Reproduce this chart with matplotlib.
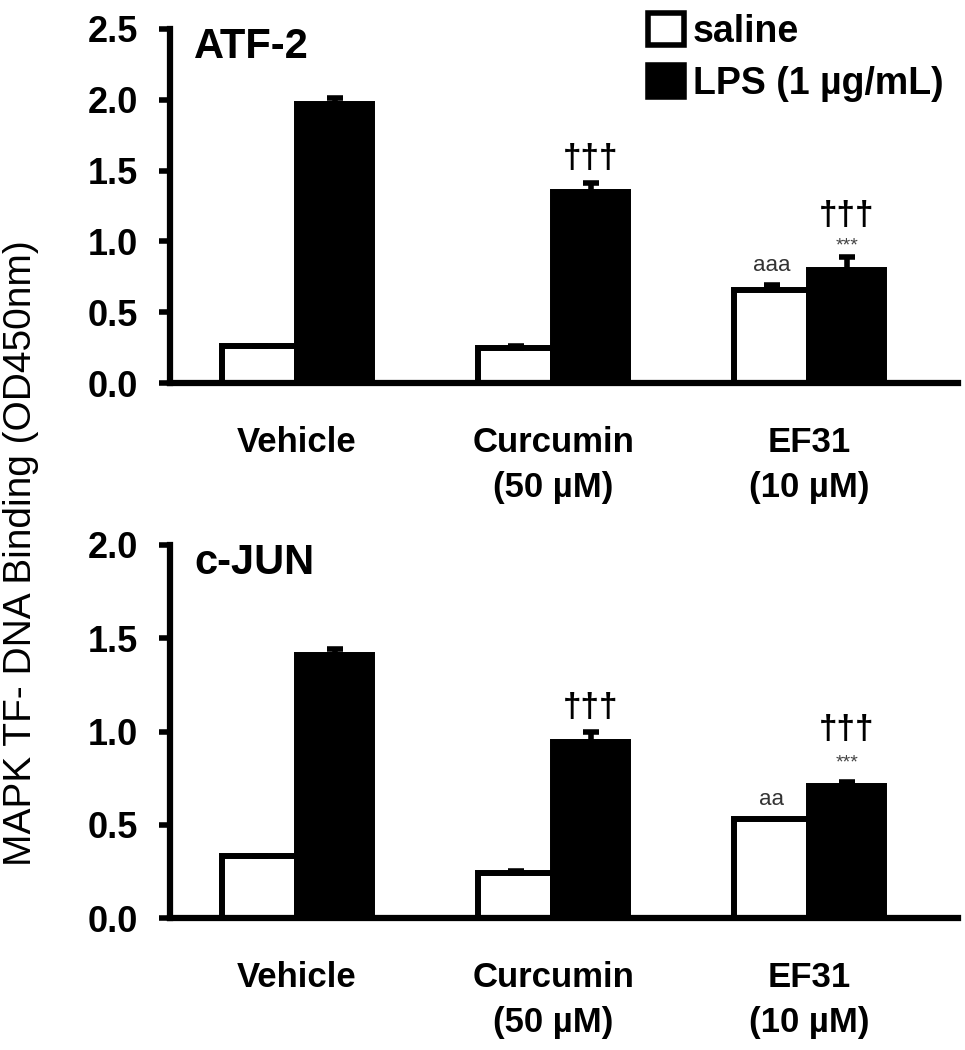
import numpy as np
import matplotlib
matplotlib.use("Agg")
import matplotlib.pyplot as plt
from matplotlib.patches import Patch

plt.rcParams['font.family'] = ['Liberation Sans', 'DejaVu Sans']
plt.rcParams['font.weight'] = 'bold'

# data
groups = ['Vehicle', 'Curcumin\n(50 µM)', 'EF31\n(10 µM)']

atf2_saline = [0.26, 0.25, 0.66]
atf2_saline_err = [0.0, 0.01, 0.03]
atf2_lps = [1.97, 1.35, 0.80]
atf2_lps_err = [0.04, 0.06, 0.09]

cjun_saline = [0.33, 0.24, 0.53]
cjun_saline_err = [0.0, 0.01, 0.0]
cjun_lps = [1.41, 0.945, 0.71]
cjun_lps_err = [0.03, 0.05, 0.02]

# significance marks: (group, series, text, offset px above error bar, size, colour)
atf2_marks = [(1, 'lps', '†††', 25, 24, 'black'),
              (2, 'lps', '†††', 41, 24, 'black'),
              (2, 'lps', '***', 11, 14, '#444444'),
              (2, 'saline', 'aaa', 20, 16, '#333333')]
cjun_marks = [(1, 'lps', '†††', 25, 24, 'black'),
              (2, 'lps', '†††', 52, 24, 'black'),
              (2, 'lps', '***', 19, 14, '#444444'),
              (2, 'saline', 'aa', 20, 16, '#333333')]

W, H = 965, 1050
fig = plt.figure(figsize=(W / 100, H / 100), dpi=100)

def px_axes(left, top, right, bottom):
    return fig.add_axes([left / W, 1 - bottom / H, (right - left) / W, (bottom - top) / H])

ax1 = px_axes(170, 29, 958, 383)
ax2 = px_axes(170, 545, 958, 918)

bw = 0.293
x = np.arange(len(groups))

def panel(ax, saline, saline_err, lps, lps_err, ymax, title, marks):
    lw = 4.3
    ax.bar(x - bw / 2, saline, bw, color='white', edgecolor='black', linewidth=lw, zorder=2)
    ax.bar(x + bw / 2, lps, bw, color='black', edgecolor='black', linewidth=lw, zorder=2)
    ax.errorbar(x - bw / 2, saline, yerr=[np.zeros(3), saline_err], fmt='none',
                ecolor='black', elinewidth=4, capsize=6, capthick=4, zorder=3)
    ax.errorbar(x + bw / 2, lps, yerr=[np.zeros(3), lps_err], fmt='none',
                ecolor='black', elinewidth=4, capsize=6, capthick=4, zorder=3)

    ax.set_xlim(-0.496, 2.58)
    ax.set_ylim(0, ymax)
    ticks = np.arange(0, ymax + 0.01, 0.5)
    ax.set_yticks(ticks)
    ax.set_yticklabels([f'{v:.1f}' for v in ticks], fontsize=26, fontweight='bold')
    ax.set_xticks(x)
    ax.set_xticklabels(groups, fontsize=25, fontweight='bold', va='top',
                       linespacing=1.45)
    ax.tick_params(axis='x', length=0, pad=31)
    ax.tick_params(axis='y', length=8, width=4, pad=15, direction='out')
    for s in ['top', 'right']:
        ax.spines[s].set_visible(False)
    ax.spines['left'].set_linewidth(4.5)
    ax.spines['bottom'].set_linewidth(4.5)
    ax.spines['bottom'].set_zorder(4)

    ax.text(0.031, 1.005, title, transform=ax.transAxes, fontsize=30,
            fontweight='bold', ha='left', va='top')

    for g, series, txt, off, size, col in marks:
        if series == 'lps':
            xpos, top = x[g] + bw / 2, lps[g] + lps_err[g]
        else:
            xpos, top = x[g] - bw / 2, saline[g] + saline_err[g]
        ax.annotate(txt, (xpos, top), xytext=(0, off * 0.72), textcoords='offset points',
                    ha='center', va='center', fontsize=size, color=col,
                    fontweight='bold' if txt.startswith('†') else 'normal')

panel(ax1, atf2_saline, atf2_saline_err, atf2_lps, atf2_lps_err, 2.5, 'ATF-2', atf2_marks)
panel(ax2, cjun_saline, cjun_saline_err, cjun_lps, cjun_lps_err, 2.0, 'c-JUN', cjun_marks)

handles = [Patch(facecolor='white', edgecolor='black', linewidth=4),
           Patch(facecolor='black', edgecolor='black', linewidth=4)]
fig.legend(handles, ['saline', 'LPS (1 µg/mL)'], loc='upper left',
           bbox_to_anchor=(648 / W, 1 - 13 / H), bbox_transform=fig.transFigure,
           frameon=False, prop={'weight': 'bold', 'size': 27},
           handlelength=0.95, handleheight=0.95, handletextpad=0.25,
           labelspacing=0.4, borderpad=0, borderaxespad=0)

fig.text(21 / W, 1 - 553 / H, 'MAPK TF- DNA Binding (OD450nm)', rotation=90,
         ha='center', va='center', fontsize=28, fontweight='normal')

fig.savefig('out.png', dpi=100)
